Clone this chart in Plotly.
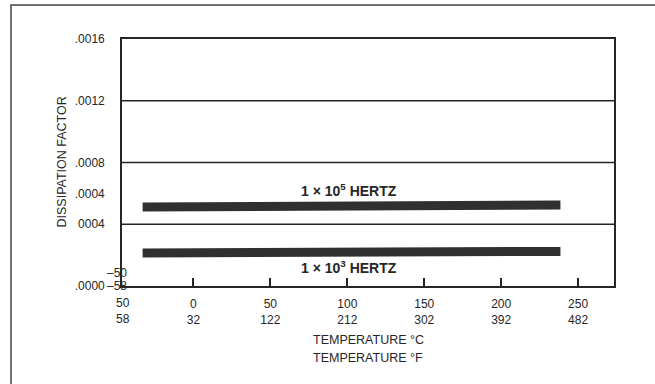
import plotly.graph_objects as go

# Dissipation factor vs temperature at two test frequencies
temp_c_ticks = [-50, 0, 50, 100, 150, 200, 250]
temp_f_ticks = [-58, 32, 122, 212, 302, 392, 482]

df_ticks = [0.0, 0.0004, 0.0006, 0.0008, 0.0012, 0.0016]
df_tick_text = [".0000", "0004", ".0004", ".0008", ".0012", ".0016"]
grid_levels = [0.0004, 0.0008, 0.0012]

temp_span = [-33, 238.5]
df_1e5 = [0.000512, 0.000525]
df_1e3 = [0.000214, 0.000224]

INK = "#262626"
BAND = "#303030"
FONT = "Liberation Sans, Arial, sans-serif"

x_range = [-46.4, 273.3]

fig = go.Figure()
for ys in (df_1e5, df_1e3):
    fig.add_trace(go.Scatter(
        x=temp_span, y=ys, mode="lines",
        line=dict(color=BAND, width=9),
        hoverinfo="skip", showlegend=False,
    ))

# horizontal rules across the plot
for g in grid_levels:
    fig.add_shape(type="line", xref="paper", x0=0, x1=1, yref="y", y0=g, y1=g,
                  line=dict(color=INK, width=1.6))

# outer frame around the figure
fig.add_shape(type="rect", xref="paper", yref="paper",
              x0=-0.2256, x1=1.1, y0=-0.43, y1=1.1376,
              line=dict(color="#444444", width=1.5))

ann = []
ann.append(dict(x=101, y=sum(df_1e5) / 2, xref="x", yref="y", yshift=16,
                text="<b>1 × 10<sup>5</sup> HERTZ</b>", showarrow=False,
                font=dict(family=FONT, size=14, color=INK), xanchor="center"))
ann.append(dict(x=101, y=sum(df_1e3) / 2, xref="x", yref="y", yshift=-15,
                text="<b>1 × 10<sup>3</sup> HERTZ</b>", showarrow=False,
                font=dict(family=FONT, size=14, color=INK), xanchor="center"))
# first temperature labels, sitting at the lower-left corner
ann.append(dict(x=0, y=0, xref="paper", yref="paper", yshift=-25, xshift=1,
                text=f"{abs(temp_c_ticks[0])}<br>{abs(temp_f_ticks[0])}", showarrow=False,
                font=dict(family=FONT, size=12, color=INK), xanchor="center", yanchor="middle"))
ann.append(dict(x=0, y=0, xref="paper", yref="paper", xshift=-5, yshift=13,
                text=f"\u2013{abs(temp_c_ticks[0])}", showarrow=False,
                font=dict(family=FONT, size=12, color=INK), xanchor="center", yanchor="middle"))
ann.append(dict(x=0, y=0, xref="paper", yref="paper", xshift=-5, yshift=0,
                text=f"\u2013{abs(temp_f_ticks[0])}", showarrow=False,
                font=dict(family=FONT, size=12, color=INK), xanchor="center", yanchor="middle"))
# axis titles
ann.append(dict(x=0.5, y=0, xref="paper", yref="paper", yshift=-54,
                text="TEMPERATURE °C", showarrow=False,
                font=dict(family=FONT, size=12.5, color=INK), xanchor="center", yanchor="middle"))
ann.append(dict(x=0.5, y=0, xref="paper", yref="paper", yshift=-72,
                text="TEMPERATURE °F", showarrow=False,
                font=dict(family=FONT, size=12.5, color=INK), xanchor="center", yanchor="middle"))
ann.append(dict(x=0, y=0.5, xref="paper", yref="paper", xshift=-61,
                text="DISSIPATION FACTOR", showarrow=False, textangle=-90,
                font=dict(family=FONT, size=12.5, color=INK), xanchor="center", yanchor="middle"))

fig.update_layout(
    width=655, height=384,
    margin=dict(l=122, r=41, t=39, b=98),
    paper_bgcolor="white", plot_bgcolor="white",
    annotations=ann,
    font=dict(family=FONT, size=12, color=INK),
)
fig.update_xaxes(
    range=x_range, showgrid=False, zeroline=False,
    tickvals=temp_c_ticks[1:],
    ticktext=[f"{c}<br>{f}" for c, f in zip(temp_c_ticks[1:], temp_f_ticks[1:])],
    ticks="inside", ticklen=8, tickwidth=2, tickcolor=INK,
    showline=True, linecolor=INK, linewidth=1.6, mirror=True,
    tickfont=dict(family=FONT, size=12, color=INK), ticklabelstandoff=6,
)
fig.update_yaxes(
    range=[0, 0.0016], showgrid=False, zeroline=False,
    tickvals=df_ticks, ticktext=df_tick_text, ticks="",
    showline=True, linecolor=INK, linewidth=1.6, mirror=True,
    tickfont=dict(family=FONT, size=12, color=INK), ticklabelstandoff=13,
)

fig.write_html("out.html")
